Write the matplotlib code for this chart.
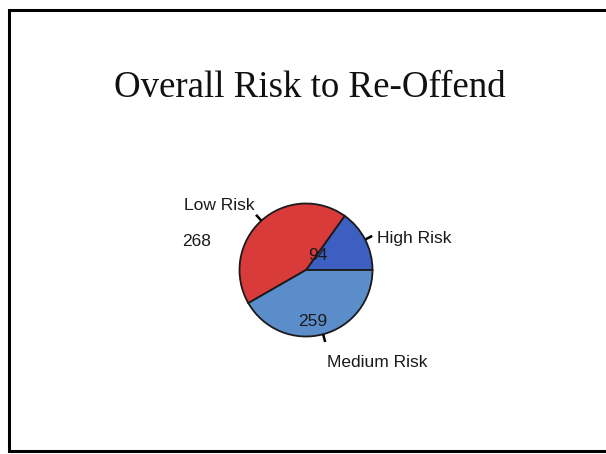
import numpy as np
import matplotlib
matplotlib.use('Agg')
import matplotlib.pyplot as plt

# data
title = 'Overall Risk to Re-Offend'
labels = ['High Risk', 'Low Risk', 'Medium Risk']
counts = [94, 268, 259]
colors = ['#3d5fc2', '#d93a3a', '#5b8dcb']

W, H = 606, 454
fig = plt.figure(figsize=(W / 100, H / 100), dpi=100)
ax = fig.add_axes([0, 0, 1, 1])

cx, cy, r = 306, H - 270, 66.5
wedges, _ = ax.pie(counts, colors=colors, startangle=0, counterclock=True,
                   center=(cx, cy), radius=r,
                   wedgeprops=dict(edgecolor='#1a1a1a', linewidth=1.3))
ax.set_xlim(0, W)
ax.set_ylim(0, H)
ax.set_aspect('equal')
ax.axis('off')

# frame of the slide (right side runs off the page)
ax.plot([W + 5, 8.5, 8.5, W + 5], [H - 10, H - 10, H - 451, H - 451],
        color='black', lw=2.2, zorder=5, solid_joinstyle='miter')

ax.text(310, H - 97, title, family='Liberation Serif', fontsize=26.6,
        ha='center', va='baseline', color='#111111')

lab_font = dict(family='Liberation Sans', fontsize=12.5, color='#1a1a1a')

# leader ticks at the middle angle of each wedge
ends = {}
for w, lab in zip(wedges, labels):
    a = np.deg2rad((w.theta1 + w.theta2) / 2)
    x0, y0 = cx + r * np.cos(a), cy + r * np.sin(a)
    x1, y1 = cx + r * 1.12 * np.cos(a), cy + r * 1.12 * np.sin(a)
    ends[lab] = (x1, y1)
    ax.plot([x0, x1], [y0, y1], color='black', lw=1.8, solid_capstyle='butt')

# High Risk
x1, y1 = ends['High Risk']
ax.text(x1 + 5, y1 - 3, 'High Risk', ha='left', va='center', **lab_font)
ax.text(cx + 0.18 * r, cy + 0.22 * r, str(counts[0]), ha='center', va='center', **lab_font)

# Low Risk with count below
x1, y1 = ends['Low Risk']
ax.text(x1 - 1, y1 + 5, 'Low Risk', ha='right', va='baseline', **lab_font)
ax.text(182, H - 241, str(counts[1]), ha='left', va='center', **lab_font)

# Medium Risk
x1, y1 = ends['Medium Risk']
ax.text(x1 + 2, y1 - 21, 'Medium Risk', ha='left', va='center', **lab_font)
ax.text(cx + 0.1 * r, cy - 0.78 * r, str(counts[2]), ha='center', va='center', **lab_font)

fig.savefig('out.png', dpi=100, facecolor='white')
